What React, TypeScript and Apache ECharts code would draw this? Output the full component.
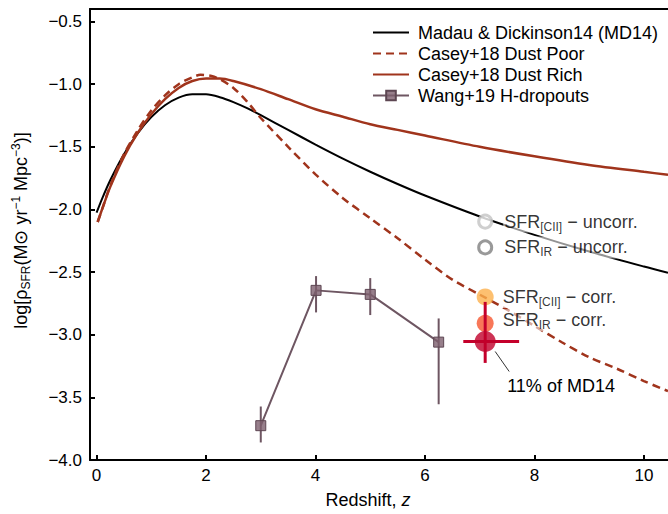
import React, { useEffect, useRef } from 'react';
import * as echarts from 'echarts';

// ---- data ----
const md14: [number, number][] = [
  [0, -2.026], [0.1, -1.915], [0.25, -1.767], [0.5, -1.56], [0.75, -1.393], [1, -1.263],
  [1.25, -1.168], [1.5, -1.107], [1.75, -1.08], [2, -1.081], [2.25, -1.104], [2.5, -1.143],
  [2.75, -1.192], [3, -1.248], [3.5, -1.365], [4, -1.482], [4.5, -1.594], [5, -1.699],
  [5.5, -1.797], [6, -1.889], [7, -2.056], [8, -2.203], [9, -2.336], [10, -2.456], [10.44, -2.505],
];
const caseyPoor: [number, number][] = [
  [0.02, -2.1], [0.1, -2.0], [0.25, -1.81], [0.5, -1.56], [0.75, -1.37], [1, -1.21],
  [1.25, -1.09], [1.5, -1.0], [1.75, -0.945], [1.9, -0.925], [2.1, -0.935], [2.25, -0.96],
  [2.5, -1.03], [2.75, -1.14], [3, -1.27], [3.5, -1.5], [4, -1.72], [4.5, -1.91],
  [5, -2.07], [5.5, -2.23], [6, -2.4], [6.5, -2.56], [7, -2.68], [7.5, -2.8], [8, -2.93],
  [8.5, -3.06], [9, -3.18], [9.5, -3.27], [10, -3.37], [10.44, -3.45],
];
const caseyRich: [number, number][] = [
  [0.02, -2.1], [0.1, -2.0], [0.25, -1.82], [0.5, -1.58], [0.75, -1.39], [1, -1.24],
  [1.25, -1.12], [1.5, -1.03], [1.75, -0.975], [2, -0.955], [2.25, -0.955], [2.5, -0.975],
  [3, -1.04], [3.5, -1.12], [4, -1.2], [4.5, -1.26], [5, -1.32], [5.5, -1.365], [6, -1.41],
  [7, -1.5], [8, -1.576], [9, -1.645], [10, -1.7], [10.44, -1.723],
];
const wangZ = [3, 4.01, 5, 6.25];
const wangVal = [-3.726, -2.646, -2.678, -3.059];
const wangHi = [-3.573, -2.532, -2.548, -2.87];
const wangLo = [-3.86, -2.822, -2.843, -3.555];

const sfrZ = 7.1;
const sfrCiiUncorr = -2.097;
const sfrIrUncorr = -2.303;
const sfrCiiCorr = -2.698;
const sfrIrCorr = -2.909;
const md14Frac = -3.054;
const md14FracErrX = [6.7, 7.72];
const md14FracErrY = [-3.225, -2.738];

const xTicks = [0, 2, 4, 6, 8, 10];
const yTicks = [-4, -3.5, -3, -2.5, -2, -1.5, -1, -0.5];

const legendNames = [
  'Madau & Dickinson14 (MD14)',
  'Casey+18 Dust Poor',
  'Casey+18 Dust Rich',
  'Wang+19 H-dropouts',
];

const FONT = '"Liberation Sans", Arial, Helvetica, sans-serif';
const CASEY = '#a0341c';
const WANG = '#6e5662';
const CRIMSON = '#c4002b';

const fmt = (v: number) => (v < 0 ? '\u2212' : '') + Math.abs(v).toFixed(1);

const subRich = {
  m: { fontSize: 18, lineHeight: 22, color: '#000', fontFamily: FONT },
  s: { fontSize: 12, lineHeight: 12, verticalAlign: 'bottom', color: '#000', fontFamily: FONT },
  p: { fontSize: 12, lineHeight: 12, verticalAlign: 'top', color: '#000', fontFamily: FONT },
};

const sfrLabel = (text: string, distance: number, offsetY = 0) => ({
  show: true,
  position: 'right',
  distance,
  offset: [0, offsetY],
  formatter: text,
  backgroundColor: 'rgba(255,255,255,0.72)',
  padding: [0, 1, 0, 1],
  rich: subRich,
});

export default function App() {
  const ref = useRef<HTMLDivElement>(null);
  useEffect(() => {
    if (!ref.current) return;
    const chart = echarts.init(ref.current, null, { renderer: 'svg' });
    const axisLineStyle = { color: '#000', width: 2 };
    const option: any = {
      animation: false,
      backgroundColor: '#fff',
      textStyle: { fontFamily: FONT },
      grid: { left: 90, top: 9, right: 0, bottom: 51, containLabel: false },
      legend: {
        orient: 'vertical',
        left: 367,
        top: 17,
        itemWidth: 36,
        itemHeight: 12,
        itemGap: 0,
        selectedMode: false,
        data: [
          { name: legendNames[0], itemStyle: { opacity: 0 } },
          { name: legendNames[1], itemStyle: { opacity: 0 } },
          { name: legendNames[2], itemStyle: { opacity: 0 } },
          { name: legendNames[3] },
        ],
        textStyle: { fontSize: 18, color: '#000', lineHeight: 21, padding: [0, 0, 0, 4], fontFamily: FONT },
      },
      xAxis: [
        {
          type: 'value',
          min: -0.12,
          max: 10.44,
          axisLine: { show: true, onZero: false, lineStyle: axisLineStyle },
          axisTick: { show: true, inside: true, length: 5, customValues: xTicks, lineStyle: axisLineStyle },
          axisLabel: {
            show: true,
            customValues: xTicks,
            formatter: (v: number) => String(v),
            fontSize: 17,
            color: '#000',
            margin: 7,
            fontFamily: FONT,
          },
          splitLine: { show: false },
          name: '{n|Redshift, }{i|z}',
          nameLocation: 'middle',
          nameGap: 31,
          nameTextStyle: {
            padding: [0, 22, 0, 0],
            rich: {
              n: { fontSize: 18, color: '#000', fontFamily: FONT },
              i: { fontSize: 18, color: '#000', fontStyle: 'italic', fontFamily: FONT },
            },
          },
        },
        {
          type: 'value',
          position: 'top',
          min: -0.12,
          max: 10.44,
          axisLine: { show: true, onZero: false, lineStyle: axisLineStyle },
          axisTick: { show: false },
          axisLabel: { show: false },
          splitLine: { show: false },
        },
      ],
      yAxis: {
        type: 'value',
        min: -4,
        max: -0.4,
        axisLine: { show: true, onZero: false, lineStyle: axisLineStyle },
        axisTick: { show: true, inside: true, length: 5, customValues: yTicks, lineStyle: axisLineStyle },
        axisLabel: {
          show: true,
          customValues: yTicks,
          formatter: fmt,
          fontSize: 17,
          color: '#000',
          margin: 8,
          fontFamily: FONT,
        },
        splitLine: { show: false },
        name: '{m|log[ρ}{s|SFR}{m|(M\u2299 yr}{p|\u22121}{m| Mpc}{p|\u22123}{m|)]}',
        nameLocation: 'middle',
        nameGap: 58,
        nameRotate: 90,
        nameTextStyle: { rich: subRich, padding: [0, 0, 0, 8] },
      },
      series: [
        {
          name: legendNames[0],
          type: 'line',
          data: md14,
          symbol: 'none',
          smooth: 0.3,
          lineStyle: { color: '#000', width: 2 },
          itemStyle: { color: '#000' },
          z: 2,
        },
        {
          name: legendNames[1],
          type: 'line',
          data: caseyPoor,
          symbol: 'none',
          smooth: 0.3,
          lineStyle: { color: CASEY, width: 2.5, type: [8, 5] },
          itemStyle: { color: CASEY },
          z: 2,
        },
        {
          name: legendNames[2],
          type: 'line',
          data: caseyRich,
          symbol: 'none',
          smooth: 0.3,
          lineStyle: { color: CASEY, width: 2.5 },
          itemStyle: { color: CASEY },
          z: 2,
        },
        {
          name: legendNames[3],
          type: 'line',
          data: wangZ.map((z, i) => [z, wangVal[i]]),
          symbol: 'rect',
          symbolSize: 10,
          lineStyle: { color: WANG, width: 2 },
          itemStyle: { color: 'rgba(125,95,110,0.8)', borderColor: '#5d4652', borderWidth: 1 },
          z: 3,
        },
        {
          type: 'custom',
          silent: true,
          z: 2,
          data: wangZ.map((z, i) => [z, wangLo[i], wangHi[i]]),
          encode: { x: 0, y: [1, 2] },
          renderItem: (_p: any, api: any) => {
            const a = api.coord([api.value(0), api.value(1)]);
            const b = api.coord([api.value(0), api.value(2)]);
            return {
              type: 'line',
              shape: { x1: a[0], y1: a[1], x2: b[0], y2: b[1] },
              style: { stroke: WANG, lineWidth: 2 },
            };
          },
        },
        {
          type: 'scatter',
          data: [[sfrZ, sfrCiiUncorr]],
          symbol: 'circle',
          symbolSize: 13,
          itemStyle: { color: '#fff', borderColor: '#c3c3c3', borderWidth: 3 },
          label: sfrLabel('{m|SFR}{s|[CII]}{m| \u2212 uncorr.}', 10),
          z: 4,
        },
        {
          type: 'scatter',
          data: [[sfrZ, sfrIrUncorr]],
          symbol: 'circle',
          symbolSize: 13,
          itemStyle: { color: '#fff', borderColor: '#7f7f7f', borderWidth: 3 },
          label: sfrLabel('{m|SFR}{s|IR}{m| \u2212 uncorr.}', 10),
          z: 4,
        },
        {
          type: 'scatter',
          data: [[sfrZ, sfrCiiCorr]],
          symbol: 'circle',
          symbolSize: 17,
          itemStyle: { color: '#fdb04c' },
          label: sfrLabel('{m|SFR}{s|[CII]}{m| \u2212 corr.}', 8),
          z: 4,
        },
        {
          type: 'scatter',
          data: [[sfrZ, sfrIrCorr]],
          symbol: 'circle',
          symbolSize: 17,
          itemStyle: { color: '#f6552e' },
          label: sfrLabel('{m|SFR}{s|IR}{m| \u2212 corr.}', 8, -3),
          z: 4,
        },
        {
          type: 'custom',
          silent: true,
          z: 5,
          data: [[sfrZ, md14Frac, md14FracErrX[0], md14FracErrX[1], md14FracErrY[0], md14FracErrY[1]]],
          encode: { x: [0, 2, 3], y: [1, 4, 5] },
          renderItem: (_p: any, api: any) => {
            const l = api.coord([api.value(2), api.value(1)]);
            const r = api.coord([api.value(3), api.value(1)]);
            const b = api.coord([api.value(0), api.value(4)]);
            const t = api.coord([api.value(0), api.value(5)]);
            return {
              type: 'group',
              children: [
                { type: 'line', shape: { x1: l[0], y1: l[1], x2: r[0], y2: r[1] }, style: { stroke: CRIMSON, lineWidth: 3 } },
                { type: 'line', shape: { x1: t[0], y1: t[1], x2: b[0], y2: b[1] }, style: { stroke: CRIMSON, lineWidth: 3 } },
              ],
            };
          },
        },
        {
          type: 'scatter',
          data: [[sfrZ, md14Frac]],
          symbol: 'circle',
          symbolSize: 21,
          itemStyle: { color: '#c0002a' },
          z: 6,
        },
        {
          type: 'custom',
          silent: true,
          z: 6,
          data: [[sfrZ, md14Frac]],
          encode: { x: 0, y: 1 },
          renderItem: (_p: any, api: any) => {
            const c = api.coord([api.value(0), api.value(1)]);
            return {
              type: 'group',
              children: [
                {
                  type: 'line',
                  shape: { x1: c[0] + 10, y1: c[1] + 10, x2: c[0] + 24, y2: c[1] + 30 },
                  style: { stroke: '#333', lineWidth: 1 },
                },
                {
                  type: 'text',
                  x: c[0] + 22,
                  y: c[1] + 45,
                  style: {
                    text: '11% of MD14',
                    fill: '#000',
                    font: `18px ${FONT}`,
                    textAlign: 'left',
                    textVerticalAlign: 'middle',
                  },
                },
              ],
            };
          },
        },
      ],
    };
    chart.setOption(option);
    return () => chart.dispose();
  }, []);
  return <div ref={ref} style={{ position: 'absolute', left: 0, top: 0, width: 668, height: 514 }} />;
}
